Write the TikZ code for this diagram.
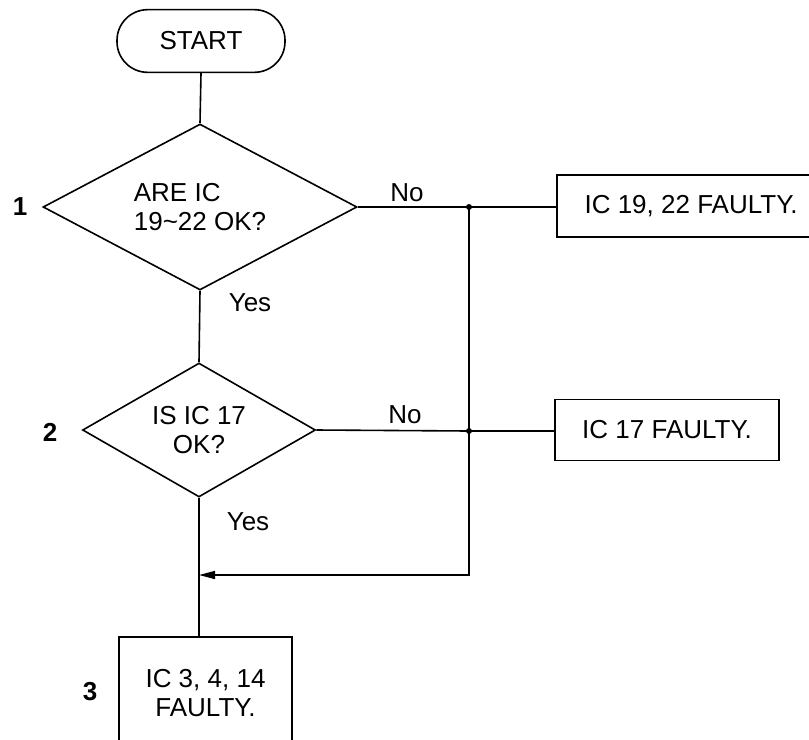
\documentclass[tikz,border=0pt]{standalone}
\usepackage{fontspec}
\setmainfont{Liberation Sans}
\usetikzlibrary{shapes.geometric,arrows.meta,positioning}

\begin{document}
\begin{tikzpicture}[x=0.75pt,y=-0.75pt,line width=1.2pt]
	\tikzstyle{every node}+=[inner sep=0pt,font=\fontsize{19.5}{22}\selectfont]
	\tikzstyle{box}=[draw,rectangle,align=center]
	\tikzstyle{test}=[draw,diamond,align=center]
	\tikzstyle{stepno}=[font=\fontsize{19.5}{22}\selectfont\bfseries]
	\useasboundingbox (0,0) rectangle (809,739);
	\node [box,rounded corners=23pt,minimum width=126pt,minimum height=47pt] (start) at (201,41) {START};
	\node [test,aspect=1.89,minimum width=235.5pt,minimum height=124.5pt,align=left] (q1) at (200,207) {ARE IC\\19\textasciitilde 22 OK?};
	\node [test,aspect=1.74,minimum width=174.75pt,minimum height=100.5pt] (q2) at (199,430) {IS IC 17\\OK?};
	\node [box,minimum width=201pt,minimum height=46.5pt] (f1) at (691,206) {IC 19, 22 FAULTY.};
	\node [box,minimum width=168pt,minimum height=45.75pt] (f2) at (667,430) {IC 17 FAULTY.};
	\node [box,minimum width=129.75pt,minimum height=84pt] (f3) at (205.5,693) {IC 3, 4, 14\\FAULTY.};
	\node [stepno] (n1) at (20,207) {1};
	\node [stepno] (n2) at (50,432) {2};
	\node [stepno] (n3) at (90,692) {3};
	\node (no1) at (407,193) {No};
	\node (no2) at (405,415) {No};
	\node (yes1) at (250,303) {Yes};
	\node (yes2) at (248,522) {Yes};
	\coordinate (j1) at (469,207);
	\coordinate (j2) at (469,431);
	\coordinate (j3) at (469,575);
	\draw (start.south) -- (q1.north);
	\draw (q1.south) -- (q2.north);
	\draw (q2.south) -- (q2.south |- f3.north);
	\draw (q1.east) -- (j1) -- (j1 -| f1.west);
	\draw (q2.east) -- (j2) -- (j2 -| f2.west);
	\draw [-{Triangle[length=12pt,width=6pt]}] (j1) -- (j3) -- (q2.south |- j3);
	\fill (j1) circle (3);
	\fill (j2) circle (3);
\end{tikzpicture}
\end{document}
